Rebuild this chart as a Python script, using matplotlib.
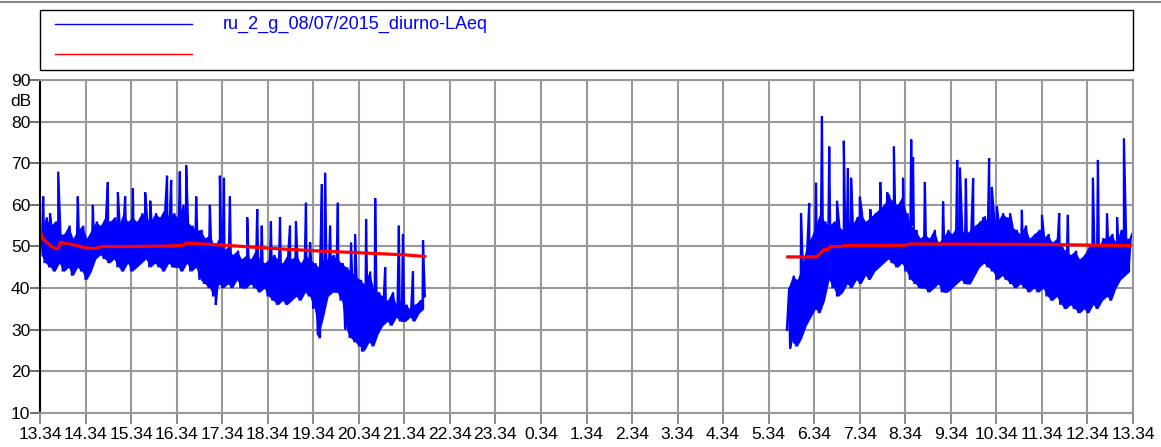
import matplotlib
matplotlib.use("Agg")
import matplotlib.pyplot as plt
from matplotlib.lines import Line2D
from matplotlib.patches import Rectangle

plt.rcParams['font.family'] = ['Liberation Sans', 'DejaVu Sans']

# ---------------- data (hours after 13:34) ----------------
tick_labels = ["13.34", "14.34", "15.34", "16.34", "17.34", "18.34", "19.34", "20.34",
               "21.34", "22.34", "23.34", "0.34", "1.34", "2.34", "3.34", "4.34",
               "5.34", "6.34", "7.34", "8.34", "9.34", "10.34", "11.34", "12.34", "13.34"]
y_ticks = [10, 20, 30, 40, 50, 60, 70, 80, 90]
series_name = "ru_2_g_08/07/2015_diurno-LAeq"

# segment 1: bins every 0.1 h starting at t=0 (band low / band high)
seg1_start = 0.0
seg1_lo = [48, 46, 45, 44, 46, 44, 45, 43, 45, 44, 42, 44, 47, 48, 47, 46, 47, 45, 44, 46,
           44, 45, 46, 47, 45, 46, 45, 44, 46, 45, 45, 44, 46, 44, 45, 42, 41, 40, 38, 41,
           40, 41, 40, 42, 40, 40, 41, 40, 39, 40, 38, 37, 36, 37, 36, 37, 38, 37, 39, 38,
           35, 29, 33, 38, 39, 39, 37, 30, 28, 27, 26, 25, 27, 26, 29, 31, 32, 31, 33, 32,
           32, 33, 32, 34, 35]
seg1_hi = [54, 57, 55, 56, 53, 53, 55, 52, 54, 55, 52, 54, 56, 55, 57, 56, 57, 55, 58, 56,
           57, 56, 58, 57, 56, 58, 57, 59, 57, 58, 57, 60, 56, 55, 54, 54, 52, 53, 50, 52,
           49, 50, 48, 49, 47, 48, 47, 49, 47, 46, 47, 48, 47, 46, 48, 47, 48, 46, 48, 47,
           46, 45, 47, 47, 48, 47, 46, 45, 44, 43, 42, 41, 44, 40, 39, 38, 37, 39, 36, 37,
           36, 35, 36, 37, 38]
seg1_peak_t = [0.07, 0.22, 0.40, 0.83, 1.16, 1.49, 1.71, 1.87, 2.04, 2.31, 2.42, 2.79, 2.88,
               3.07, 3.21, 3.43, 3.73, 3.95, 4.04, 4.17, 4.55, 4.77, 4.87, 5.07, 5.27, 5.49,
               5.62, 5.84, 5.93, 6.19, 6.26, 6.37, 6.54, 6.83, 6.92, 7.16, 7.36, 7.58, 7.88,
               7.97, 8.19, 8.41, 3.86, 6.15, 7.07]
seg1_peak_v = [62, 58, 68, 62, 60, 65.5, 63, 62, 64, 63, 61, 67, 66,
               68, 69.5, 62, 60, 67, 66.5, 62, 57, 59, 55, 56, 57, 55,
               56, 60.5, 51, 65, 67.7, 55, 60.5, 51, 53, 56.6, 61.6, 45, 55,
               53, 44, 51.5, 36, 28, 25]

# segment 2
seg2_start = 16.4
seg2_lo = [30, 27, 26, 28, 31, 33, 35, 34, 37, 42, 40, 38, 39, 41, 40, 42, 41, 43, 42, 44,
           45, 46, 47, 46, 45, 46, 44, 42, 41, 40, 40, 39, 40, 41, 39, 39, 40, 41, 42, 41,
           41, 43, 45, 46, 45, 44, 42, 43, 42, 41, 40, 41, 40, 39, 40, 39, 40, 38, 37, 38,
           36, 35, 36, 35, 34, 35, 34, 36, 35, 37, 38, 37, 40, 42, 43, 44]
seg2_hi = [40, 43, 42, 45, 50, 52, 55, 58, 56, 55, 56, 55, 54, 57, 55, 57, 58, 56, 57, 58,
           59, 60, 62, 61, 60, 62, 58, 55, 54, 52, 53, 52, 54, 51, 52, 54, 53, 55, 54, 53,
           54, 55, 56, 57, 56, 57, 56, 58, 57, 55, 54, 53, 55, 52, 53, 54, 52, 53, 51, 52,
           50, 49, 48, 49, 47, 48, 50, 51, 49, 52, 52, 53, 51, 54, 52, 52]
seg2_peak_t = [16.47, 16.71, 16.89, 17.04, 17.17, 17.33, 17.50, 17.65, 17.74, 17.81, 18.00,
               18.23, 18.45, 18.60, 18.75, 18.95, 19.13, 19.17, 19.43, 19.83, 20.14, 20.20,
               20.33, 20.49, 20.71, 20.84, 20.90, 21.01, 21.30, 21.56, 21.67, 22.00, 22.38,
               22.57, 23.12, 23.23, 23.43, 23.65, 23.80, 23.98]
seg2_peak_v = [25.5, 58, 60.4, 65.3, 81.3, 74, 61, 75.4, 68.8, 66.5, 62,
               59, 65.5, 63, 74, 66.5, 75.7, 71.5, 65.5, 60.8, 70.8, 69,
               66.3, 66.4, 56.8, 71.2, 64.3, 59.7, 58, 58.8, 52.3, 57.6, 58,
               57.6, 66.5, 70.8, 58, 57, 76, 53]

# running average (red)
avg1_t = [0, 0.05, 0.15, 0.25, 0.35, 0.40, 0.45, 0.7, 1.0, 1.2, 1.35, 2.0, 2.8, 3.15, 3.2,
          3.6, 4.2, 5.0, 6.0, 7.0, 8.0, 8.45]
avg1_v = [54, 52, 51, 50, 49.5, 49.5, 51, 50.5, 49.7, 49.5, 50, 50, 50.1, 50.3, 50.8,
          50.6, 50.2, 49.6, 49, 48.5, 48, 47.6]
avg2_t = [16.42, 17.05, 17.15, 17.2, 17.3, 17.35, 17.6, 17.65, 19.0, 19.1, 22.0, 24.0]
avg2_v = [47.5, 47.5, 48.5, 49.2, 49.3, 50, 50, 50.2, 50.3, 50.6, 50.5, 50.2]

BLUE = "#0000ff"


def build(start, lo, hi, pt, pv):
    pts = []
    for i, (a, b) in enumerate(zip(lo, hi)):
        t = start + i * 0.1
        pts.append((t, a))
        pts.append((t + 0.05, b))
    pts += list(zip(pt, pv))
    pts.sort()
    return [p[0] for p in pts], [p[1] for p in pts]


def band(ax, start, lo, hi):
    ts = [start + i * 0.1 + 0.025 for i in range(len(lo))]
    ax.fill_between(ts, lo, hi, color=BLUE, lw=0)


W, H = 1161, 447
fig = plt.figure(figsize=(W / 100, H / 100), dpi=100)
L, R, T, B = 40, 1133, 80, 413
ax = fig.add_axes([L / W, 1 - B / H, (R - L) / W, (B - T) / H])

grid_c = "#999999"
band(ax, seg1_start, seg1_lo, seg1_hi)
band(ax, seg2_start, seg2_lo, seg2_hi)
x1, y1 = build(seg1_start, seg1_lo, seg1_hi, seg1_peak_t, seg1_peak_v)
x2, y2 = build(seg2_start, seg2_lo, seg2_hi, seg2_peak_t, seg2_peak_v)
ax.plot(x1, y1, color=BLUE, lw=1.6, solid_joinstyle="miter")
ax.plot(x2, y2, color=BLUE, lw=1.6, solid_joinstyle="miter")
ax.plot(avg1_t, avg1_v, color="#ff0000", lw=2.3)
ax.plot(avg2_t, avg2_v, color="#ff0000", lw=2.3)

ax.set_xlim(0, 24)
ax.set_ylim(10, 90)
ax.set_xticks(range(25))
ax.set_xticklabels(tick_labels)
ax.set_yticks(y_ticks)
ax.grid(True, color=grid_c, lw=1.5)
ax.set_axisbelow(True)
for s in ["top", "right", "bottom"]:
    ax.spines[s].set_color(grid_c)
    ax.spines[s].set_linewidth(1.5)
ax.spines["left"].set_color("black")
ax.spines["left"].set_linewidth(1.5)
ax.tick_params(axis="x", length=8, width=1.2, color="#777777", pad=2, labelsize=12.6)
ax.tick_params(axis="y", length=7, width=1.2, color="#555555", pad=0, labelsize=12.6)

fig.text(21 / W, 1 - 101 / H, "dB", ha="center", va="center", fontsize=12.6)

# legend box
fig.patches.append(Rectangle((L / W, 1 - 70 / H), (R - L) / W, 60 / H,
                             transform=fig.transFigure, fill=False, edgecolor="black", lw=1.0))
fig.lines.append(Line2D([55 / W, 192 / W], [1 - 24 / H] * 2, transform=fig.transFigure,
                        color=BLUE, lw=1.0))
fig.lines.append(Line2D([55 / W, 192 / W], [1 - 54 / H] * 2, transform=fig.transFigure,
                        color="#ff0000", lw=1.0))
fig.text(223 / W, 1 - 24 / H, series_name, color=BLUE, fontsize=13,
         ha="left", va="center")
fig.lines.append(Line2D([0, 1], [1 - 2 / H] * 2, transform=fig.transFigure,
                        color="#888888", lw=1.5))

fig.savefig("out.png", dpi=100)
